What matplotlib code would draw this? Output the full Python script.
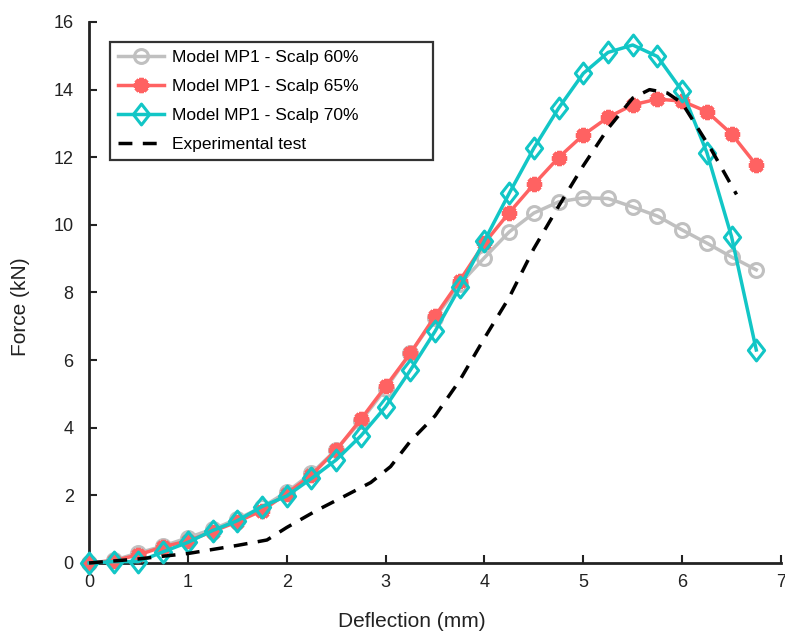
import numpy as np
import matplotlib
matplotlib.use("Agg")
import matplotlib.pyplot as plt
from matplotlib.path import Path

plt.rcParams['font.family'] = ['Liberation Sans', 'DejaVu Sans']

# Deflection steps of the numerical models (mm)
deflection_model = [0, 0.25, 0.5, 0.75, 1.0, 1.25, 1.5, 1.75, 2.0, 2.25, 2.5, 2.75, 3.0, 3.25,
                    3.5, 3.75, 4.0, 4.25, 4.5, 4.75, 5.0, 5.25, 5.5, 5.75, 6.0, 6.25, 6.5, 6.75]

force_scalp60 = [0, 0.08, 0.3, 0.5, 0.75, 1.0, 1.3, 1.65, 2.1, 2.65, 3.35, 4.2, 5.15, 6.2,
                 7.25, 8.25, 9.03, 9.79, 10.35, 10.68, 10.8, 10.78, 10.53, 10.26, 9.85, 9.46, 9.05, 8.67]

force_scalp65 = [0, 0.07, 0.24, 0.48, 0.65, 0.93, 1.22, 1.55, 2.05, 2.6, 3.34, 4.25, 5.22, 6.2,
                 7.3, 8.35, 9.46, 10.36, 11.2, 11.99, 12.66, 13.18, 13.55, 13.72, 13.66, 13.35, 12.69, 11.77]

force_scalp70 = [0, 0.04, 0.04, 0.33, 0.61, 0.96, 1.25, 1.67, 1.98, 2.5, 3.05, 3.76, 4.62, 5.7,
                 6.85, 8.15, 9.53, 10.93, 12.27, 13.45, 14.48, 15.1, 15.32, 14.98, 13.96, 12.14, 9.65, 6.3]

# Experimental force-deflection curve
deflection_exp = [0, 0.5, 1.0, 1.5, 1.8, 2.0, 2.3, 2.6, 2.85, 3.05, 3.25, 3.5, 3.75, 4.0, 4.25,
                  4.5, 4.75, 5.0, 5.25, 5.5, 5.67, 5.85, 6.0, 6.3, 6.55]
force_exp = [0, 0.12, 0.28, 0.52, 0.68, 1.05, 1.55, 2.0, 2.38, 2.85, 3.6, 4.35, 5.4, 6.65, 7.85,
             9.3, 10.55, 11.75, 12.85, 13.75, 14.0, 13.9, 13.6, 12.2, 10.9]

series_labels = ["Model MP1 - Scalp 60%", "Model MP1 - Scalp 65%",
                 "Model MP1 - Scalp 70%", "Experimental test"]

x_ticks = [0, 1, 2, 3, 4, 5, 6, 7]
y_ticks = [0, 2, 4, 6, 8, 10, 12, 14, 16]

gray = "#c0c0c0"
red = "#ff6262"
cyan = "#12c6c6"

# slightly tall open diamond
diamond = Path([(0, 1), (0.78, 0), (0, -1), (-0.78, 0), (0, 1)],
               [Path.MOVETO, Path.LINETO, Path.LINETO, Path.LINETO, Path.CLOSEPOLY])

fig = plt.figure(figsize=(7.85, 6.34), dpi=100)
ax = fig.add_axes([0.1134, 0.112, 0.8815, 0.8533])

ax.plot(deflection_model, force_scalp60, color=gray, lw=2.5, marker='o', ms=10,
        mfc='none', mec=gray, mew=2.2, label=series_labels[0], zorder=3, clip_on=False)
ax.plot(deflection_model, force_scalp65, color=red, lw=2.5, marker=(8, 2, 0), ms=11,
        mfc=red, mec=red, mew=3.2, label=series_labels[1], zorder=4, clip_on=False)
ax.plot(deflection_model, force_scalp70, color=cyan, lw=2.5, marker=diamond, ms=15,
        mfc='none', mec=cyan, mew=2.2, label=series_labels[2], zorder=5, clip_on=False)
ax.plot(deflection_exp, force_exp, color='black', lw=2.5, dashes=(4, 3),
        label=series_labels[3], zorder=6, clip_on=False)

ax.set_xlim(0, 7)
ax.set_ylim(0, 16)
ax.set_xticks(x_ticks)
ax.set_yticks(y_ticks)
ax.tick_params(direction='in', length=6, width=1.5, labelsize=13, colors='#222222')
ax.tick_params(axis='y', pad=11)
ax.tick_params(axis='x', pad=8)
for side in ('top', 'right'):
    ax.spines[side].set_visible(False)
for side in ('left', 'bottom'):
    ax.spines[side].set_linewidth(2)
    ax.spines[side].set_color('#222222')

ax.set_xlabel("Deflection (mm)", fontsize=15, color='#222222')
ax.set_ylabel("Force (kN)", fontsize=15, color='#222222')
ax.xaxis.set_label_coords(0.467, -0.09)
ax.yaxis.set_label_coords(-0.085, 0.473)

leg = ax.legend(loc='upper left', bbox_to_anchor=(0.03, 0.963, 0.467, 0.0),
                mode='expand', fontsize=12.5, frameon=True, fancybox=False,
                handlelength=2.7, borderpad=0.45, labelspacing=0.8,
                handletextpad=0.45, borderaxespad=0)
leg.get_frame().set_edgecolor('black')
leg.get_frame().set_linewidth(1.6)

fig.savefig("out.png", dpi=100)
